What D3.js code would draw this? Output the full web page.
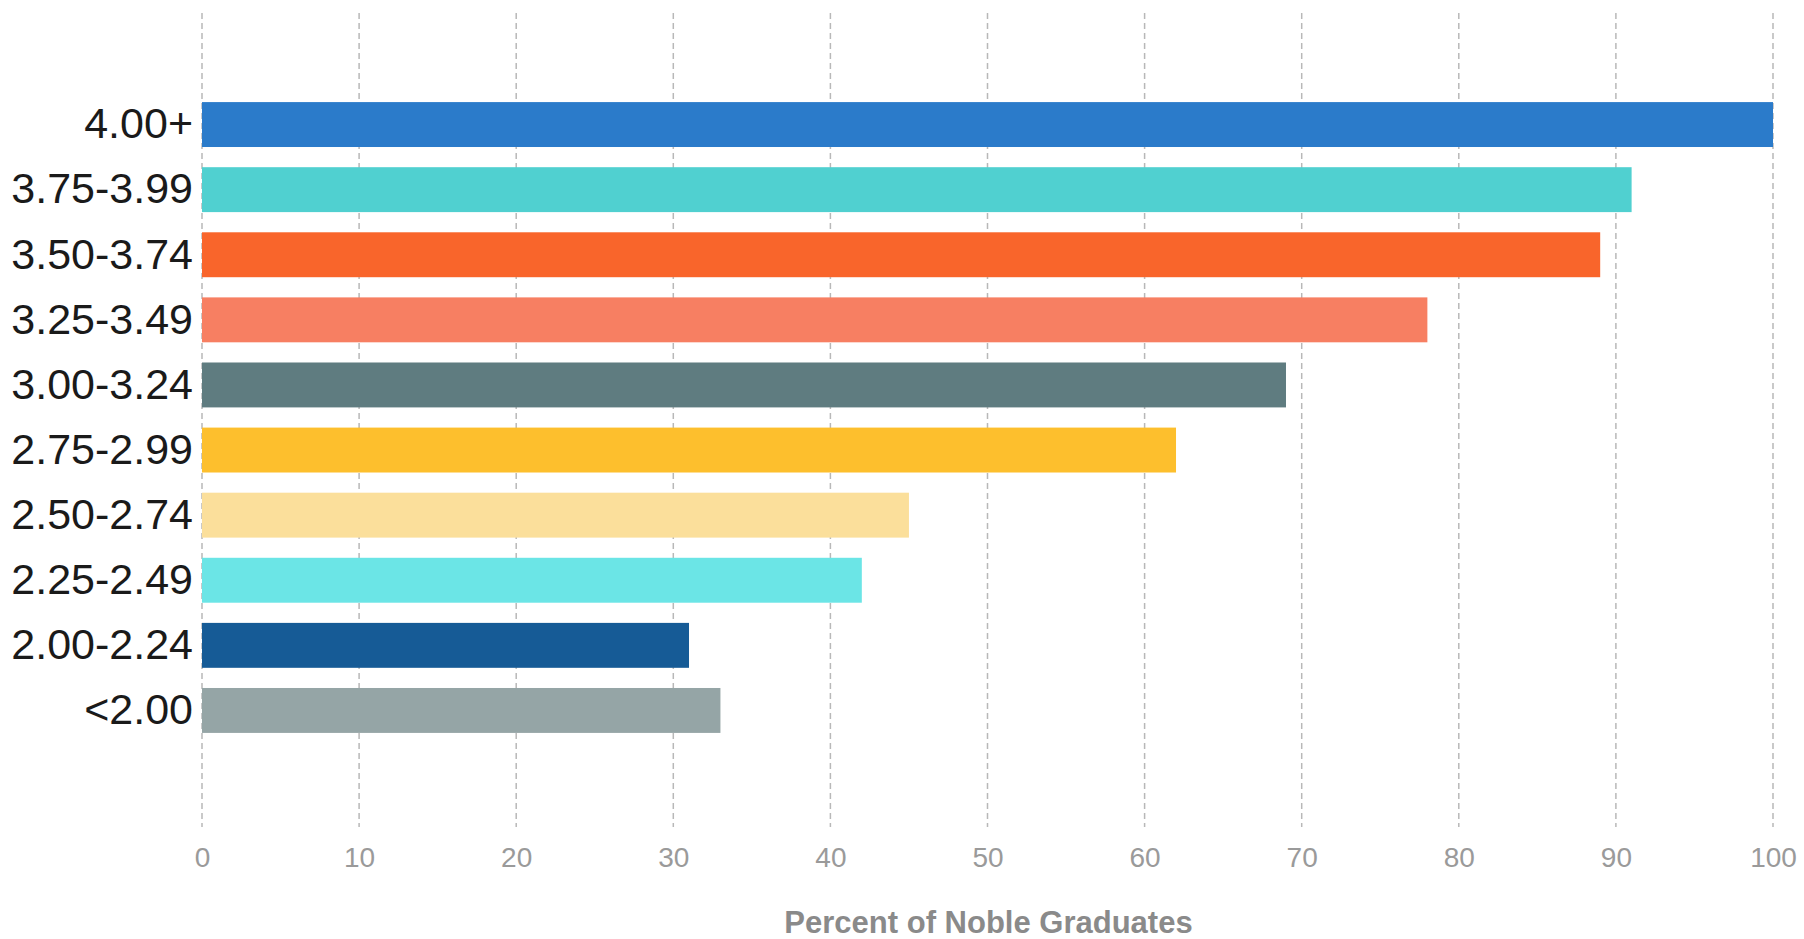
<!DOCTYPE html>
<html>
<head>
<meta charset="utf-8">
<script src="https://cdn.jsdelivr.net/npm/d3@7"></script>
<style>
  html, body { margin: 0; padding: 0; background: #fff; }
  svg { display: block; }
</style>
</head>
<body>
<svg id="chart" width="1804" height="939"></svg>
<script>
const categories = ["4.00+", "3.75-3.99", "3.50-3.74", "3.25-3.49", "3.00-3.24", "2.75-2.99", "2.50-2.74", "2.25-2.49", "2.00-2.24", "<2.00"];
const values = [100, 91, 89, 78, 69, 62, 45, 42, 31, 33];
const colors = ["#2b7bca", "#50d0d0", "#f9652b", "#f77f62", "#5f7c80", "#fdbf2d", "#fbdf9b", "#6be5e6", "#165b96", "#95a5a6"];
const xTicks = [0, 10, 20, 30, 40, 50, 60, 70, 80, 90, 100];
const xTitle = "Percent of Noble Graduates";

const svg = d3.select("#chart");
const left = 202, right = 1773, gridTop = 13, gridBottom = 827;

const x = d3.scaleLinear().domain([0, 100]).range([left, right]);
const y = d3.scaleBand().domain(categories).range([92, 743]).paddingInner(0.31).paddingOuter(0.155);

// gridlines
svg.append("g").selectAll("line").data(xTicks).join("line")
  .attr("x1", d => x(d)).attr("x2", d => x(d))
  .attr("y1", gridTop).attr("y2", gridBottom)
  .attr("stroke", "#b8b8b8").attr("stroke-width", 1.5)
  .attr("stroke-dasharray", "6,4");

// bars
svg.append("g").selectAll("rect").data(categories).join("rect")
  .attr("x", x(0))
  .attr("y", d => y(d))
  .attr("width", (d, i) => x(values[i]) - x(0))
  .attr("height", y.bandwidth())
  .attr("fill", (d, i) => colors[i]);

// y labels
const yAxis = d3.axisLeft(y).tickSize(0).tickPadding(9);
const gy = svg.append("g").attr("transform", `translate(${left},0)`).call(yAxis);
gy.select(".domain").remove();
gy.selectAll("text")
  .attr("font-family", "'Liberation Sans', Arial, Helvetica, sans-serif")
  .attr("font-size", 43)
  .attr("fill", "#1a1a1a");

// x axis labels
const xAxis = d3.axisBottom(x).tickValues(xTicks).tickSize(0).tickPadding(0).tickFormat(d3.format("d"));
const gx = svg.append("g").attr("transform", `translate(0,${gridBottom + 20})`).call(xAxis);
gx.select(".domain").remove();
gx.selectAll("text")
  .attr("font-family", "'Liberation Sans', Arial, Helvetica, sans-serif")
  .attr("font-size", 28)
  .attr("fill", "#9a9a9a")
  .attr("dy", "0.71em");

// x title
svg.append("text")
  .attr("x", (left + right) / 2 + 1)
  .attr("y", 933)
  .attr("text-anchor", "middle")
  .attr("font-family", "'Liberation Sans', Arial, Helvetica, sans-serif")
  .attr("font-weight", "bold")
  .attr("font-size", 31)
  .attr("fill", "#8a8a8a")
  .text(xTitle);
</script>
</body>
</html>
